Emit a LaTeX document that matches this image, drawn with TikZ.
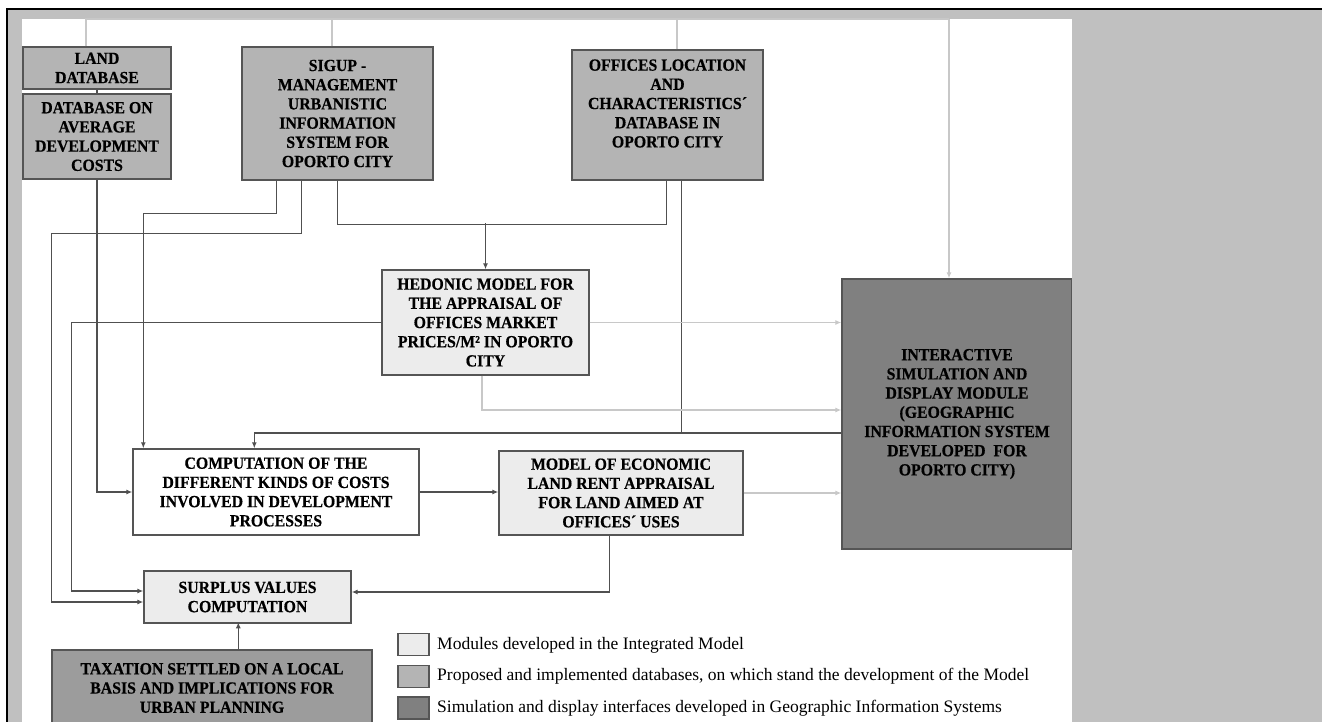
\documentclass[tikz,border=0pt]{standalone}
\usepackage{fontspec}
\setmainfont{Liberation Serif}
\newfontfamily\boxfont{Liberation Serif}[FakeStretch=0.93, BoldFeatures={FakeBold=0.5}]
\usetikzlibrary{arrows.meta,calc}
\definecolor{panel}{RGB}{192,192,192}
\definecolor{dbfill}{RGB}{180,180,180}
\definecolor{modfill}{RGB}{236,236,236}
\definecolor{gisfill}{RGB}{128,128,128}
\definecolor{taxfill}{RGB}{156,156,156}
\definecolor{boxline}{RGB}{85,85,85}
\definecolor{linedark}{RGB}{80,80,80}
\definecolor{linelight}{RGB}{200,200,200}
\tikzset{
  basebox/.style={draw=boxline, line width=1.4pt, inner sep=0pt, align=center,
    font=\boxfont\bfseries\fontsize{17}{19.2}\selectfont},
  dbbox/.style={basebox, fill=dbfill},
  modbox/.style={basebox, fill=modfill},
  whitebox/.style={basebox, fill=white},
  gisbox/.style={basebox, fill=gisfill},
  taxbox/.style={basebox, fill=taxfill},
  darkline/.style={draw=linedark, line width=1.4pt},
  lightline/.style={draw=linelight, line width=1.4pt},
  tip/.style={-{Latex[length=6pt,width=5pt]}},
  legbox/.style={draw=boxline, line width=1.2pt, minimum width=31, minimum height=22, inner sep=0pt},
  legtext/.style={anchor=west, inner sep=0pt, font=\fontsize{17.5}{20}\selectfont}
}
\begin{document}
\begin{tikzpicture}[x=1pt,y=-1pt]
\useasboundingbox (0,0) rectangle (1322,722);
% frame and backgrounds
\fill[white] (0,0) rectangle (1322,722);
\fill[panel] (7,9) rectangle (1322,722);
\fill[white] (22,19) rectangle (1072,722);
\fill[black] (6,8) rectangle (1322,10);
\fill[black] (6,8) rectangle (8,722);

% nodes
\node[dbbox, minimum width=148, minimum height=42] (land) at (97,68) {LAND\\DATABASE};
\node[dbbox, minimum width=148, minimum height=85] (dbavg) at (97,136.5) {DATABASE ON\\AVERAGE\\DEVELOPMENT\\COSTS};
\node[dbbox, minimum width=191, minimum height=133] (sigup) at (337.5,113.5) {SIGUP -\\MANAGEMENT\\URBANISTIC\\INFORMATION\\SYSTEM FOR\\OPORTO CITY};
\node[dbbox, minimum width=191, minimum height=130] (offices) at (667.5,115) {OFFICES LOCATION\\AND\\CHARACTERISTICS´\\DATABASE IN\\OPORTO CITY\\[4pt]};
\node[modbox, minimum width=207, minimum height=105] (hedonic) at (485.5,322.5) {HEDONIC MODEL FOR\\THE APPRAISAL OF\\OFFICES MARKET\\PRICES/M² IN OPORTO\\CITY};
\node[whitebox, minimum width=286, minimum height=86] (computation) at (276,492) {COMPUTATION OF THE\\DIFFERENT KINDS OF COSTS\\INVOLVED IN DEVELOPMENT\\PROCESSES};
\node[modbox, minimum width=244, minimum height=84] (model) at (621,493) {MODEL OF ECONOMIC\\LAND RENT APPRAISAL\\FOR LAND AIMED AT\\OFFICES´ USES};
\node[gisbox, minimum width=230, minimum height=270] (interactive) at (957,414) {INTERACTIVE\\SIMULATION AND\\DISPLAY MODULE\\(GEOGRAPHIC\\INFORMATION SYSTEM\\DEVELOPED\ \ FOR\\OPORTO CITY)};
\node[modbox, minimum width=207, minimum height=52] (surplus) at (247.5,597) {SURPLUS VALUES\\COMPUTATION};
\node[taxbox, minimum width=320, minimum height=76] (taxation) at (212,688) {TAXATION SETTLED ON A LOCAL\\BASIS AND IMPLICATIONS FOR\\URBAN PLANNING};

% legend
\node[legbox, fill=modfill] (leg1) at (413.5,644.5) {};
\node[legbox, fill=dbfill] (leg2) at (413.5,676.5) {};
\node[legbox, fill=gisfill] (leg3) at (413.5,708) {};
\node[legtext] (legt1) at (437,645) {Modules developed in the Integrated Model};
\node[legtext] (legt2) at (437,676) {Proposed and implemented databases, on which stand the development of the Model};
\node[legtext] (legt3) at (437,708) {Simulation and display interfaces developed in Geographic Information Systems};

% top light distribution line
\coordinate (barL) at (86,19);
\coordinate (barR) at (949,19);
\draw[lightline] (land.north -| barL) -- (barL) -- (barR);
\draw[lightline] ($(sigup.north)+(-5.5,0)$) -- ++(0,-28);
\draw[lightline] ($(offices.north)+(9.5,0)$) -- ++(0,-31);
\draw[lightline, tip] (barR) -- (barR |- interactive.north);

% dark connectors
\draw[darkline] (land.south) -- (dbavg.north);
\draw[darkline, tip] (dbavg.south) |- (computation.west);
\draw[darkline, tip] ($(sigup.south west)+(35,0)$) -- ++(0,33) -| ($(computation.north west)+(11,0)$);
\draw[darkline, tip] ($(sigup.south west)+(60,0)$) -- ++(0,53) -| ($(surplus.west)+(-92,5)$) -- ($(surplus.west)+(0,5)$);
\draw[darkline] (sigup.south) -- ++(0,44) -| ($(offices.south west)+(95,0)$);
\draw[darkline, tip] ($(hedonic.north)+(0,-46)$) -- (hedonic.north);
\draw[darkline] ($(offices.south west)+(110,0)$) -- ++(0,253);
\draw[darkline, tip] ($(interactive.west)+(0,19)$) -| ($(computation.north west)+(122,0)$);
\draw[darkline, tip] (hedonic.west) -| ($(surplus.west)+(-72,-6)$) -- ($(surplus.west)+(0,-6)$);
\draw[darkline, tip] (computation.east) -- (computation.east -| model.west);
\draw[darkline, tip] ($(model.south west)+(111,0)$) |- ($(surplus.east)+(0,-5)$);
\draw[darkline, tip] ($(taxation.north west)+(187,0)$) -- ++(0,-27);

% light connectors to GIS module
\draw[lightline, tip] (hedonic.east) -- (hedonic.east -| interactive.west);
\draw[lightline, tip] ($(hedonic.south)+(-3.5,0)$) |- ($(interactive.west)+(0,-4)$);
\draw[lightline, tip] (model.east) -- (model.east -| interactive.west);

% right grey panel covers the right side of the GIS box
\fill[panel] (1072,10) rectangle (1322,722);
\end{tikzpicture}
\end{document}
